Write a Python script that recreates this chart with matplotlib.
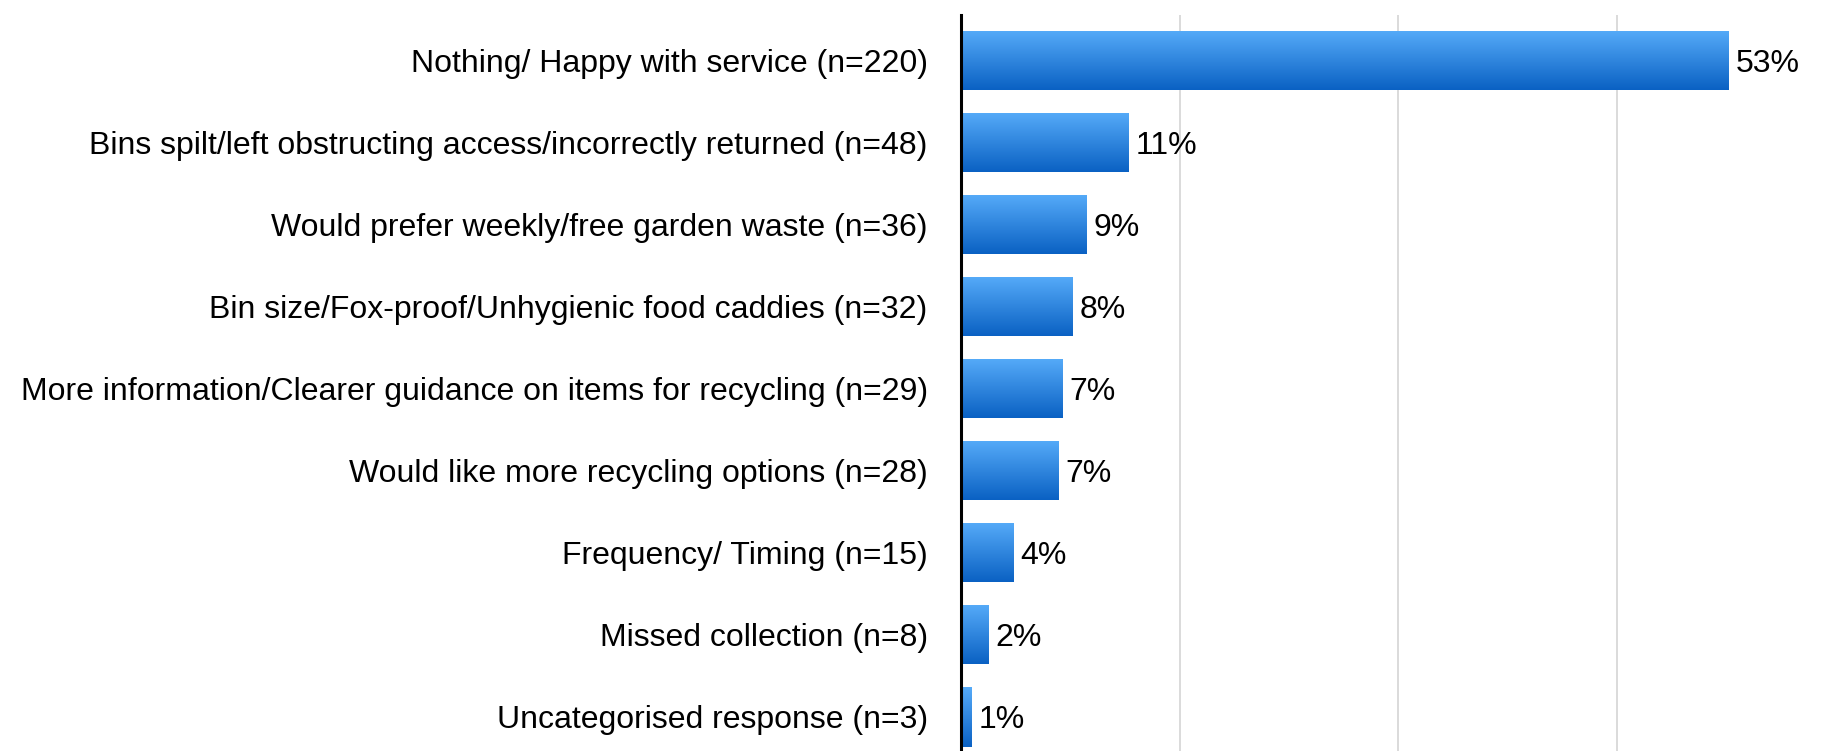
import numpy as np
import matplotlib
matplotlib.use("Agg")
import matplotlib.pyplot as plt
from matplotlib.colors import LinearSegmentedColormap

plt.rcParams["font.family"] = ["Liberation Sans", "DejaVu Sans"]

categories = [
    "Nothing/ Happy with service (n=220)",
    "Bins spilt/left obstructing access/incorrectly returned (n=48)",
    "Would prefer weekly/free garden waste (n=36)",
    "Bin size/Fox-proof/Unhygienic food caddies (n=32)",
    "More information/Clearer guidance on items for recycling (n=29)",
    "Would like more recycling options (n=28)",
    "Frequency/ Timing (n=15)",
    "Missed collection (n=8)",
    "Uncategorised response (n=3)",
]
percent = [52.63, 11.48, 8.61, 7.66, 6.94, 6.70, 3.59, 1.91, 0.72]
grid_ticks = [15, 30, 45]

W, H = 1831, 751
fig = plt.figure(figsize=(W / 100, H / 100), dpi=100)
ax_left = 961 / W
ax_top = 1 - 15 / H
ax_width = 4 * 218.7 / W
ax = fig.add_axes([ax_left, 0.0, ax_width, ax_top])

y = np.arange(len(categories))
bars = ax.barh(y, percent, height=0.72, color="none", edgecolor="none", zorder=2)

# vertical blue gradient inside each bar
cmap = LinearSegmentedColormap.from_list("bar_grad", ["#56abf9", "#0a61c3"])
grad = np.linspace(0, 1, 256).reshape(-1, 1)
for b in bars:
    x0, y0 = b.get_x(), b.get_y()
    w, h = b.get_width(), b.get_height()
    im = ax.imshow(grad, cmap=cmap, aspect="auto",
                   extent=[x0, x0 + w, y0 + h, y0], origin="upper", zorder=2)
    im.set_clip_path(b)

for yi, v in zip(y, percent):
    ax.annotate(f"{v:.0f}%", xy=(v, yi), xytext=(5, 0), textcoords="offset points",
                va="center_baseline", ha="left", fontsize=23, color="black", zorder=3)

ax.set_xlim(0, 60)
ax.set_ylim(8 + 34 / 82, -45.7 / 82)
ax.set_yticks(y)
ax.set_yticklabels(categories, fontsize=23, va="center_baseline")
ax.tick_params(axis="y", length=0, pad=24)
ax.set_xticks(grid_ticks)
ax.tick_params(axis="x", length=0, labelbottom=False)
ax.grid(axis="x", color="#d4d4d4", linewidth=1.2, zorder=0)
ax.set_axisbelow(True)
for side in ["top", "right", "bottom"]:
    ax.spines[side].set_visible(False)
ax.spines["left"].set_linewidth(2.2)
ax.spines["left"].set_color("black")
ax.spines["left"].set_zorder(4)

fig.savefig("out.png", dpi=100)
